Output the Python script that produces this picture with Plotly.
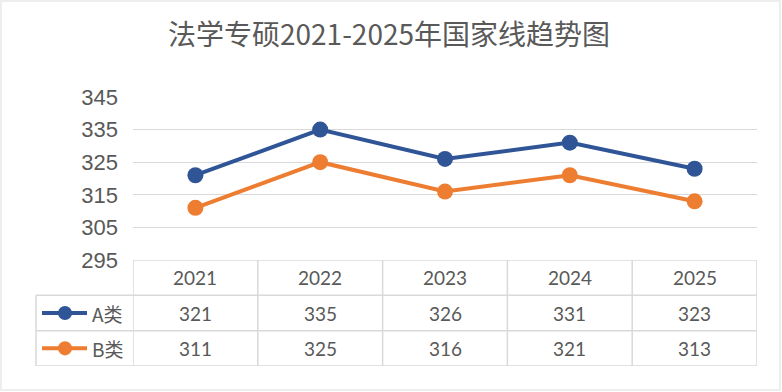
import plotly.graph_objects as go

years = ["2021", "2022", "2023", "2024", "2025"]
series_names = ["A类", "B类"]
a_values = [321, 335, 326, 331, 323]
b_values = [311, 325, 316, 321, 313]
y_ticks = [295, 305, 315, 325, 335, 345]

colors = ["#2F5597", "#ED7D31"]
grid = "#D9D9D9"
txt = "#595959"

W, H = 782, 392
L, R, T, B = 133, 25, 97, 26
pw, ph = W - L - R, H - T - B
table_h = 106
dom_split = table_h / ph

def px_x(px):
    return (px - L) / pw

def px_y(py):
    return (H - B - py) / ph

xs = list(range(len(years)))
fig = go.Figure()
for name, vals, c in zip(series_names, [a_values, b_values], colors):
    fig.add_trace(go.Scatter(
        x=xs, y=vals, mode="lines+markers", name=name,
        line=dict(color=c, width=4),
        marker=dict(color=c, size=16),
        xaxis="x", yaxis="y", showlegend=False, hoverinfo="skip"))

shapes = []
annotations = []
for r in [0, 1, 2, 3]:
    if r == 3:
        shapes.append(dict(type="line", xref="x", yref="y2", x0=-0.5, x1=len(years) - 0.5,
                           y0=r, y1=r, line=dict(color=grid, width=1.5)))
    else:
        shapes.append(dict(type="line", xref="paper", yref="y2", x0=px_x(36), x1=1,
                           y0=r, y1=r, line=dict(color=grid, width=1.5)))
for i in range(len(years) + 1):
    shapes.append(dict(type="line", xref="x", yref="y2", x0=i - 0.5, x1=i - 0.5,
                       y0=0, y1=3, line=dict(color=grid, width=1.5)))
shapes.append(dict(type="line", xref="paper", yref="y2", x0=px_x(36), x1=px_x(36),
                   y0=0, y1=2, line=dict(color=grid, width=1.5)))

for i, yr in enumerate(years):
    annotations.append(dict(x=i, y=2.5, xref="x", yref="y2", text=yr, showarrow=False,
                            font=dict(family="Lato", size=19, color=txt)))
for row, vals in zip([1.5, 0.5], [a_values, b_values]):
    for i, v in enumerate(vals):
        annotations.append(dict(x=i, y=row, xref="x", yref="y2", text=str(v), showarrow=False,
                                font=dict(family="Lato", size=19, color=txt)))

for row, name, c in zip([1.5, 0.5], series_names, colors):
    shapes.append(dict(type="line", xref="paper", yref="y2", x0=px_x(42), x1=px_x(87),
                       y0=row, y1=row, line=dict(color=c, width=4)))
    shapes.append(dict(type="circle", xref="paper", yref="y2", x0=px_x(58), x1=px_x(72),
                       y0=row - 0.2, y1=row + 0.2, fillcolor=c, line=dict(color=c, width=0)))
    annotations.append(dict(x=px_x(90), y=row, xref="paper", yref="y2", text=name,
                            showarrow=False, xanchor="left",
                            font=dict(family="Noto Sans CJK SC", size=19, color=txt)))

shapes.append(dict(type="rect", xref="paper", yref="paper", x0=px_x(1), x1=px_x(780),
                   y0=px_y(390), y1=px_y(1), line=dict(color="#EEEEEE", width=2)))

fig.update_layout(
    width=W, height=H,
    margin=dict(l=L, r=R, t=T, b=B),
    paper_bgcolor="white", plot_bgcolor="white",
    title=dict(text="法学专硕2021-2025年国家线趋势图", x=389 / W, xref="container", xanchor="center",
               y=1 - 35 / H, yref="container", yanchor="middle",
               font=dict(family="Noto Sans CJK SC", size=28, color=txt)),
    xaxis=dict(range=[-0.5, len(years) - 0.5], showticklabels=False, showgrid=False,
               zeroline=False, showline=False, fixedrange=True),
    yaxis=dict(domain=[dom_split, 1], range=[295, 345], tickvals=y_ticks,
               showgrid=True, gridcolor=grid, gridwidth=1, zeroline=False, showline=False,
               ticklabelstandoff=14, fixedrange=True,
               tickfont=dict(family="Liberation Sans", size=22, color=txt)),
    yaxis2=dict(domain=[0, dom_split], range=[0, 3], visible=False, fixedrange=True),
    shapes=shapes, annotations=annotations,
)

fig.write_html("out.html", config={"displayModeBar": False, "staticPlot": True},
               post_script="document.body.style.margin='0';")
